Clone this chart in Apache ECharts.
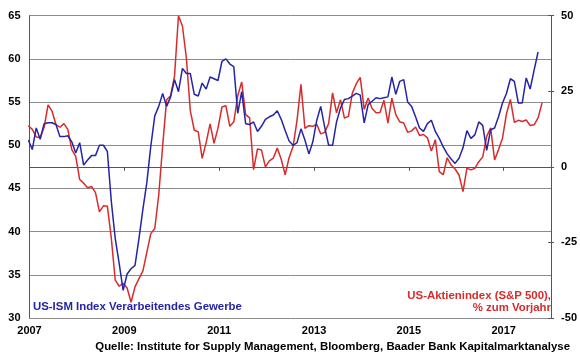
<!DOCTYPE html>
<html><head><meta charset="utf-8">
<script src="https://cdn.jsdelivr.net/npm/echarts@6/dist/echarts.min.js"></script>
<style>html,body{margin:0;padding:0;background:#fff}#c{width:580px;height:360px}</style>
</head><body><div id="c"></div>
<script>
// Monthly data, first value = Dec 2006 (month-end), x = months since 1 Jan 2007
const startYear = 2007;
const monthShift = -0.3; // Dec 2006 point sits just left of the 2007 tick

// US ISM manufacturing index (left axis), Dec 2006 .. Sep 2017
const ismValues = [
  50.6,
  49.5, 52.0, 50.7, 52.5, 52.6, 52.6, 52.4, 51.0, 51.0, 51.1, 50.4, 49.1,
  50.3, 47.7, 48.3, 48.8, 48.8, 50.0, 50.0, 49.3, 43.5, 39.2, 36.3, 33.2,
  35.1, 35.7, 36.1, 39.2, 42.6, 45.7, 49.9, 53.4, 54.5, 56.0, 54.5, 55.6,
  57.6, 56.2, 58.9, 58.3, 58.3, 55.9, 55.7, 57.2, 56.5, 57.9, 57.7, 57.5,
  59.7, 60.0, 59.4, 59.1, 53.7, 56.2, 52.5, 52.4, 52.7, 51.6, 52.2, 53.0,
  53.3, 53.5, 54.0, 53.0, 51.7, 50.5, 50.0, 50.3, 51.9, 50.6, 49.0, 50.4,
  52.9, 54.5, 52.1, 50.0, 50.0, 52.7, 54.3, 55.3, 55.4, 55.7, 56.0, 55.8,
  52.6, 54.7, 55.1, 55.5, 55.4, 55.5, 55.6, 57.9, 55.9, 57.4, 57.6, 55.0,
  54.5, 53.3, 52.0, 51.6, 52.5, 52.9, 51.6, 50.8, 49.8, 49.0, 48.4, 47.9,
  48.5, 49.7, 51.7, 50.8, 51.2, 52.7, 52.3, 49.4, 51.8, 52.0, 53.3, 54.9,
  56.0, 57.7, 57.4, 54.9, 54.9, 57.8, 56.5, 58.7, 60.8
];

// S&P 500, % change vs. prior year (right axis), Dec 2006 .. Oct 2017
const spxYoY = [
  13.6,
  12.4, 9.9, 9.7, 13.1, 20.5, 18.4, 14.0, 13.1, 14.3, 12.4, 5.7, 3.5,
  -4.2, -5.4, -6.9, -6.5, -8.5, -14.9, -12.9, -13.0, -23.6, -37.5, -39.5, -38.5,
  -40.1, -44.8, -39.7, -37.0, -34.4, -28.2, -22.1, -20.4, -9.4, 7.0, 22.2, 23.5,
  30.0, 50.0, 46.6, 36.0, 18.5, 12.1, 11.6, 2.8, 8.0, 14.2, 7.8, 12.8,
  19.8, 20.2, 13.4, 14.9, 23.5, 28.1, 17.3, 16.2, -0.9, 5.9, 5.6, 0.0,
  2.0, 2.9, 6.2, 2.5, -2.6, 3.1, 6.7, 15.4, 27.3, 12.7, 13.6, 13.4,
  14.1, 10.9, 11.4, 14.3, 24.5, 17.9, 22.2, 16.1, 16.7, 24.4, 27.5, 29.6,
  19.0, 22.8, 19.3, 17.9, 18.0, 22.0, 14.5, 22.7, 17.3, 14.9, 14.5, 11.4,
  11.9, 13.2, 10.4, 10.7, 9.6, 5.2, 9.0, -1.6, -2.6, 3.0, 0.6, -0.7,
  -2.7, -8.2, -0.4, -1.0, -0.5, 1.7, 3.3, 10.1, 12.9, 2.3, 5.7, 9.5,
  17.5, 22.3, 14.7, 15.4, 15.0, 15.5, 13.7, 13.9, 16.2, 21.1
];

const yearLabelStep = 24;      // label every 2 years
const leftRange = [30, 65, 5];
const rightRange = [-50, 50, 25];

const ismName = 'US-ISM Index Verarbeitendes Gewerbe';
const spxName1 = 'US-Aktienindex (S&P 500),';
const spxName2 = '% zum Vorjahr';
const sourceText = 'Quelle: Institute for Supply Management, Bloomberg, Baader Bank Kapitalmarktanalyse';

const FONT = '"Liberation Sans", Arial, sans-serif';
const BLUE = '#2424A8';
const RED = '#D92B2B';
const TXT = 'bold 11.4px ' + FONT;

const chart = echarts.init(document.getElementById('c'), null, {renderer: 'canvas'});
const labelStyle = {color: '#000', fontFamily: FONT, fontWeight: 'bold', fontSize: 11};

chart.setOption({
  animation: false,
  backgroundColor: '#fff',
  grid: {left: 29.5, right: 27.5, top: 15.7, bottom: 42, containLabel: false},
  xAxis: {
    type: 'value', min: 0, max: 132, interval: yearLabelStep,
    axisLine: {show: true, lineStyle: {color: '#555', width: 1}},
    axisTick: {show: true, length: 4, lineStyle: {color: '#555'}},
    splitLine: {show: false},
    axisLabel: Object.assign({}, labelStyle, {
      margin: 7,
      showMaxLabel: false,
      formatter: v => (v % yearLabelStep === 0 ? String(startYear + v / 12) : '')
    })
  },
  yAxis: [
    {
      type: 'value', min: leftRange[0], max: leftRange[1], interval: leftRange[2], position: 'left',
      axisLine: {show: true, lineStyle: {color: '#555', width: 1}},
      axisTick: {show: false},
      splitLine: {show: true, lineStyle: {color: '#8c8c8c', width: 1}},
      axisLabel: Object.assign({}, labelStyle, {margin: 9})
    },
    {
      type: 'value', min: rightRange[0], max: rightRange[1], interval: rightRange[2], position: 'right',
      axisLine: {show: true, lineStyle: {color: '#555', width: 1}},
      axisTick: {show: true, length: 3, lineStyle: {color: '#555'}},
      splitLine: {show: false},
      axisLabel: Object.assign({}, labelStyle, {margin: 10})
    },
    {
      type: 'value', min: rightRange[0], max: rightRange[1], interval: rightRange[2], position: 'right',
      axisLine: {show: false},
      axisTick: {show: true, inside: true, length: 3, lineStyle: {color: '#555'}},
      splitLine: {show: false},
      axisLabel: {show: false}
    }
  ],
  series: [
    {
      type: 'line', name: 'S&P 500', yAxisIndex: 1, clip: true,
      data: spxYoY.map((v, i) => [i + monthShift, v]),
      showSymbol: false, symbol: 'none',
      lineStyle: {color: RED, width: 1.5}, z: 2
    },
    {
      type: 'line', name: 'ISM', yAxisIndex: 0, clip: true,
      data: ismValues.map((v, i) => [i + monthShift, v]),
      showSymbol: false, symbol: 'none',
      lineStyle: {color: BLUE, width: 1.5}, z: 3
    }
  ],
  graphic: [
    {type: 'text', x: 33, y: 307, z: 10,
     style: {text: ismName, fill: BLUE, font: TXT, textAlign: 'left', textVerticalAlign: 'middle'}},
    {type: 'text', x: 551, y: 296, z: 10,
     style: {text: spxName1, fill: RED, font: TXT, textAlign: 'right', textVerticalAlign: 'middle'}},
    {type: 'text', x: 551, y: 307.5, z: 10,
     style: {text: spxName2, fill: RED, font: TXT, textAlign: 'right', textVerticalAlign: 'middle'}},
    {type: 'text', x: 570, y: 347, z: 10,
     style: {text: sourceText, fill: '#000', font: TXT, textAlign: 'right', textVerticalAlign: 'middle'}}
  ]
});
</script>
</body></html>
